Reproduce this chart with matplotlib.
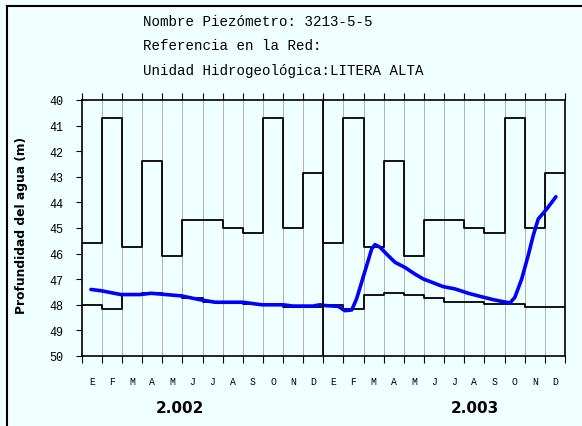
import numpy as np
import matplotlib.pyplot as plt
from matplotlib.lines import Line2D

meses = ['E', 'F', 'M', 'A', 'M', 'J', 'J', 'A', 'S', 'O', 'N', 'D']
anios = ['2.002', '2.003']

# maximos y minimos historicos por mes (se repiten cada año)
maximo = [45.6, 40.7, 45.75, 42.4, 46.1, 44.7, 44.7, 45.0, 45.2, 40.7, 45.0, 42.85]
minimo = [48.0, 48.15, 47.6, 47.55, 47.6, 47.75, 47.9, 47.9, 47.96, 47.96, 48.08, 48.08]

# medidas (mes decimal desde enero 2002, profundidad)
med_mes = [0.46, 0.96, 1.95, 2.9, 3.44, 4.93, 5.87, 6.62, 8.0, 8.95, 10.0, 10.5, 11.48,
           11.83, 12.08, 12.74, 13.07, 13.41, 13.65, 13.9, 14.15, 14.4, 14.56, 14.81,
           15.22, 15.56, 16.05, 16.55, 16.96, 17.95, 18.54, 19.2, 19.78, 20.44, 21.26,
           21.51, 21.85, 22.17, 22.42, 22.67, 23.09, 23.55]
med_prof = [47.4, 47.45, 47.6, 47.6, 47.55, 47.65, 47.8, 47.9, 47.9, 48.0, 48.0, 48.05, 48.05,
            48.0, 48.03, 48.06, 48.23, 48.2, 47.77, 47.12, 46.47, 45.82, 45.65, 45.75,
            46.08, 46.34, 46.54, 46.8, 46.99, 47.29, 47.38, 47.55, 47.67, 47.8, 47.93,
            47.71, 46.99, 46.08, 45.3, 44.65, 44.26, 43.78]

fondo = '#f0ffff'
fig = plt.figure(figsize=(5.82, 4.27), dpi=100, facecolor=fondo)
ax = fig.add_axes([81.7 / 582, 70 / 427, (565 - 81.7) / 582, 256 / 427])
ax.set_facecolor(fondo)

n = 24
x = np.arange(n + 1)
maxs = maximo * 2
mins = minimo * 2
ax.step(x, maxs + [maxs[-1]], where='post', color='black', lw=1.3)
ax.step(x, mins + [mins[-1]], where='post', color='black', lw=1.3)
ax.plot(med_mes, med_prof, color='#0000ff', lw=2.6, solid_capstyle='round',
        solid_joinstyle='round')

for i in range(1, n):
    ax.axvline(i, color='#b0b0b0', lw=0.7, zorder=0)
ax.axvline(12, color='black', lw=1.3)

ax.set_xlim(0, n)
ax.set_ylim(50, 40)
ax.set_yticks(range(40, 51))
ax.tick_params(axis='y', direction='out', length=4, labelsize=8.5, pad=9)
ax.set_xticks(range(n + 1))
ax.set_xticklabels([])
ax.tick_params(axis='x', direction='out', length=5, top=True)
for lab in ax.get_yticklabels():
    lab.set_family('Liberation Mono')
for s in ax.spines.values():
    s.set_linewidth(1.2)

for i in range(n):
    ax.text(i + 0.5, 50.98, meses[i % 12], ha='center', va='center',
            family='Liberation Mono', fontsize=7)
for k, a in enumerate(anios):
    ax.text(4.88 + 14.62 * k, 52.0, a, ha='center', va='center', fontsize=11,
            fontweight='bold', family='DejaVu Sans')

fig.text(22 / 582, 1 - 226 / 427, 'Profundidad del agua (m)', rotation=90,
         ha='center', va='center', fontsize=8.8, fontweight='bold', family='DejaVu Sans')

titulos = ['Nombre Piezómetro: 3213-5-5', 'Referencia en la Red:',
           'Unidad Hidrogeológica:LITERA ALTA']
for j, t in enumerate(titulos):
    fig.text(143 / 582, 1 - (22 + 24.5 * j) / 427, t, ha='left', va='center',
             family='Liberation Mono', fontsize=10.2)

fig.add_artist(Line2D([7 / 582, 7 / 582], [0, 1 - 7 / 427], color='black', lw=1.5))
fig.add_artist(Line2D([7 / 582, 1], [1 - 7 / 427, 1 - 7 / 427], color='black', lw=1.5))

fig.savefig('out.png', dpi=100, facecolor=fondo)
